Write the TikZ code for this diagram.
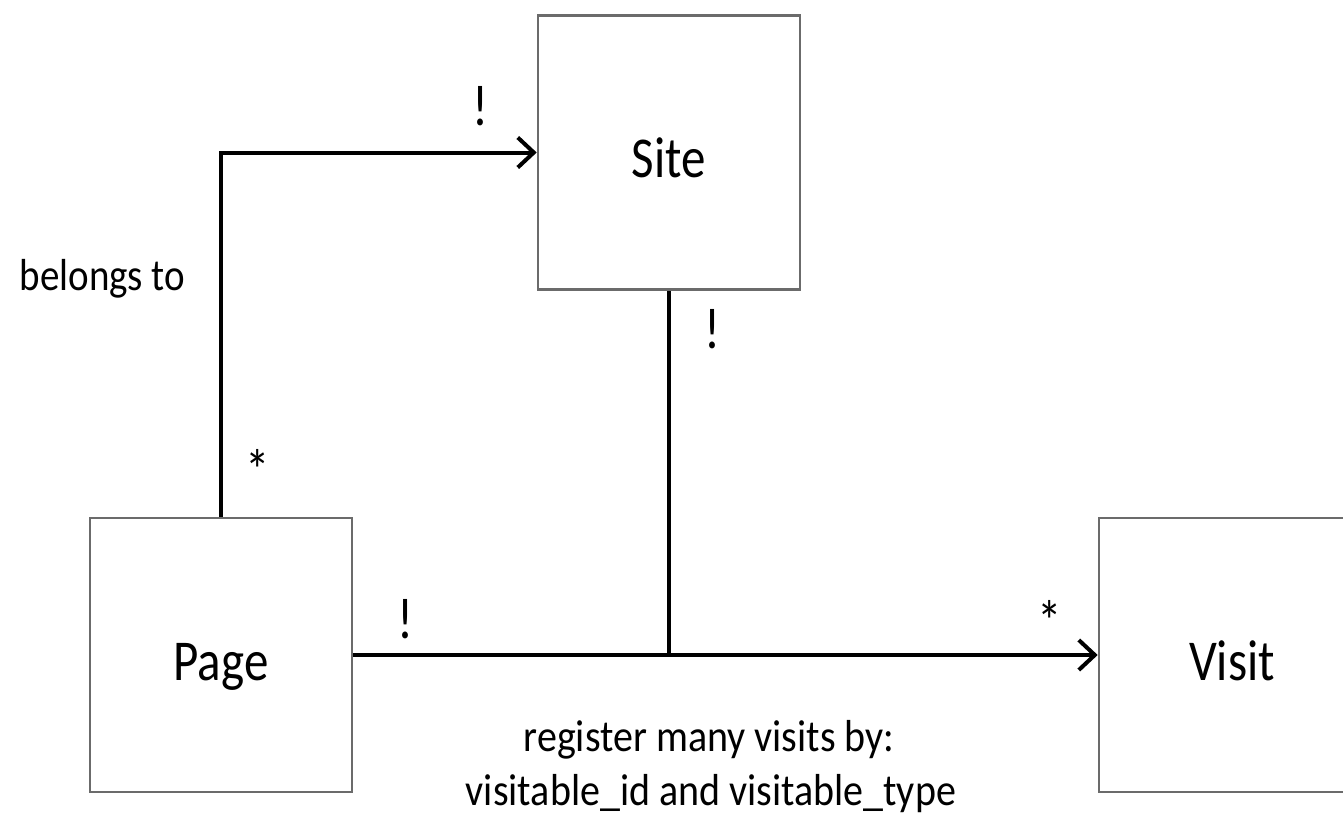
\documentclass[tikz,border=0pt]{standalone}
\usepackage{graphicx}
\usepackage{fontspec}
\setmainfont{Carlito}
\usetikzlibrary{arrows.meta}
\definecolor{boxgray}{rgb}{0.42,0.42,0.42}
% slightly tall lettering
\newcommand{\tallt}[2][1.18]{\scalebox{1}[#1]{#2}}
\tikzset{
  entity/.style={draw=boxgray, line width=2.6pt, fill=white,
    minimum width=262pt, minimum height=274pt, inner sep=0pt,
    text height=50pt, text depth=0pt,
    font=\fontsize{49}{54}\selectfont},
  link/.style={line width=4pt, black},
  arr/.style={link, -{Straight Barb[length=16pt, width=30pt, line width=4pt]}},
  mult/.style={font=\fontsize{49}{54}\selectfont, inner sep=0pt, anchor=base},
  lbl/.style={font=\fontsize{39}{44}\selectfont, inner sep=0pt, anchor=base},
  note/.style={font=\fontsize{40}{44}\selectfont, inner sep=0pt, anchor=base},
}
\begin{document}
\begin{tikzpicture}[x=1pt, y=-1pt]
  \useasboundingbox (0,0) rectangle (1343,819);
  \clip (0,0) rectangle (1343,819);

  % entities
  \node[entity] (site)  at (669,152.5) {\tallt{Site}};
  \node[entity] (page)  at (221,655)   {\tallt{Page}};
  \node[entity, minimum width=266pt] (visit) at (1232,655) {\tallt{Visit}};

  % relations
  \coordinate (jn) at (site.south |- page.east);
  \draw[arr]  (page.north) |- (site.west);
  \draw[link] (site.south) -- (jn);
  \draw[arr]  (page.east) -- (visit.west);

  % multiplicities
  \node[mult] (m1) at (480,125) {\tallt{!}};
  \node[mult] (m2) at (258,490) {\tallt{*}};
  \node[mult] (m3) at (712,348) {\tallt{!}};
  \node[mult] (m4) at (405,638) {\tallt{!}};
  \node[mult] (m5) at (1050,641) {\tallt{*}};

  % captions
  \node[lbl] (belongs) at (102.5,290) {\tallt[1.15]{belongs to}};
  \node[note] (reg1) at (709,751) {\tallt[1.12]{register many visits by:}};
  \node[note] (reg2) at (711,805) {\tallt[1.12]{visitable\_id and visitable\_type}};
\end{tikzpicture}
\end{document}
